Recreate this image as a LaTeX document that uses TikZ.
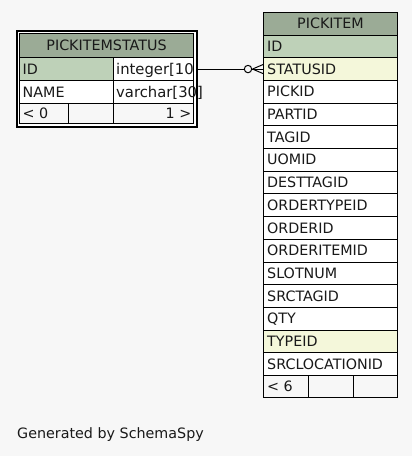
\documentclass[tikz,border=0pt]{standalone}
\usepackage{fontspec}
\setmainfont{DejaVu Sans}
\usetikzlibrary{calc}
\definecolor{bg}{HTML}{F7F7F7}
\definecolor{hd}{HTML}{9BAB96}
\definecolor{pk}{HTML}{BED1B8}
\definecolor{ix}{HTML}{F4F7DA}
\tikzset{
  cellbox/.style={draw=black, line width=1pt, inner sep=0pt, anchor=north west},
  lbl/.style={inner sep=0pt, text height=10.2pt, text depth=0pt, font=\fontsize{14.3}{16}\selectfont, text=black!90},
  typelbl/.style={lbl, font=\fontsize{14.8}{16}\selectfont},
  edge/.style={draw=black, line width=1pt}
}
\begin{document}
\begin{tikzpicture}[x=1pt,y=-1pt]
\path[fill=bg,use as bounding box] (0,0) rectangle (412,456);

% ---------------- PICKITEMSTATUS ----------------
\node[draw=black, line width=2.2pt, fill=white, inner sep=0pt, anchor=north west,
      minimum width=180pt, minimum height=96pt] (stframe) at (16,30) {};
\node[cellbox, fill=hd, minimum width=174pt, minimum height=24pt] (sh) at (19,33) {};
\node[lbl] (sht) at (sh.center) {PICKITEMSTATUS};
\node[cellbox, fill=pk, minimum width=94pt, minimum height=23pt] (sidn) at (19,57) {};
\node[cellbox, fill=white, minimum width=80pt, minimum height=23pt] (sidt) at (113,57) {};
\node[lbl, anchor=west] (sidnt) at ($(sidn.west)+(3.5,0)$) {ID};
\node[typelbl, anchor=west] (sidtt) at ($(sidt.west)+(3,0)$) {integer[10};
\node[cellbox, fill=white, minimum width=94pt, minimum height=23pt] (snmn) at (19,80) {};
\node[cellbox, fill=white, minimum width=80pt, minimum height=23pt] (snmt) at (113,80) {};
\node[lbl, anchor=west] (snmnt) at ($(snmn.west)+(3.5,0)$) {NAME};
\node[cellbox, fill=bg, minimum width=49pt, minimum height=20pt] (sf1) at (19,103) {};
\node[cellbox, fill=bg, minimum width=45pt, minimum height=20pt] (sf2) at (68,103) {};
\node[cellbox, fill=bg, minimum width=80pt, minimum height=20pt] (sf3) at (113,103) {};
\node[lbl, anchor=west] (sf1t) at ($(sf1.west)+(3.5,0)$) {< 0};
\node[lbl, anchor=east] (sf3t) at ($(sf3.east)+(-2.5,0)$) {1 >};

% ---------------- PICKITEM ----------------
\node[cellbox, fill=hd, minimum width=134pt, minimum height=22.5pt] (ph) at (263,12) {};
\node[lbl] (pht) at (ph.center) {PICKITEM};
\foreach \n/\c [count=\i from 0] in {ID/pk, STATUSID/ix, PICKID/white, PARTID/white,
    TAGID/white, UOMID/white, DESTTAGID/white, ORDERTYPEID/white, ORDERID/white,
    ORDERITEMID/white, SLOTNUM/white, SRCTAGID/white, QTY/white, TYPEID/ix,
    SRCLOCATIONID/white} {
  \pgfmathsetmacro{\yy}{34.5+22.7*\i}
  \node[cellbox, fill=\c, minimum width=134pt, minimum height=22.7pt] (p-\i) at (263,\yy) {};
  \node[lbl, anchor=west] (pt-\i) at ($(p-\i.west)+(4,0)$) {\n};
}
\node[cellbox, fill=bg, minimum width=45pt, minimum height=22pt] (pf1) at (263,375) {};
\node[cellbox, fill=bg, minimum width=45pt, minimum height=22pt] (pf2) at (308,375) {};
\node[cellbox, fill=bg, minimum width=44pt, minimum height=22pt] (pf3) at (353,375) {};
\node[lbl, anchor=west] (pf1t) at ($(pf1.west)+(4,0)$) {< 6};

% ---------------- relationship ----------------
\node[circle, draw=black, line width=1pt, fill=bg, minimum size=7.4pt, inner sep=0pt]
  (circ) at ($(p-1.west)+(-15,0)$) {};
\coordinate (crowtip) at ($(p-1.west)+(-10.5,0)$);
\draw[edge] (circ.west -| stframe.east) -- (circ.west);
\draw[edge] (circ.east) -- (p-1.west);
\draw[edge] (crowtip) -- ($(p-1.west)+(0,-4.5)$);
\draw[edge] (crowtip) -- ($(p-1.west)+(0,4.5)$);

% text that overflows the frame is drawn last, on top of it
\node[typelbl, anchor=west] (snmtt) at ($(snmt.west)+(3,0)$) {varchar[30]};

% ---------------- footer ----------------
\node[lbl, anchor=base west, text height=, text depth=] (gen) at (17,438) {Generated by SchemaSpy};
\end{tikzpicture}
\end{document}
